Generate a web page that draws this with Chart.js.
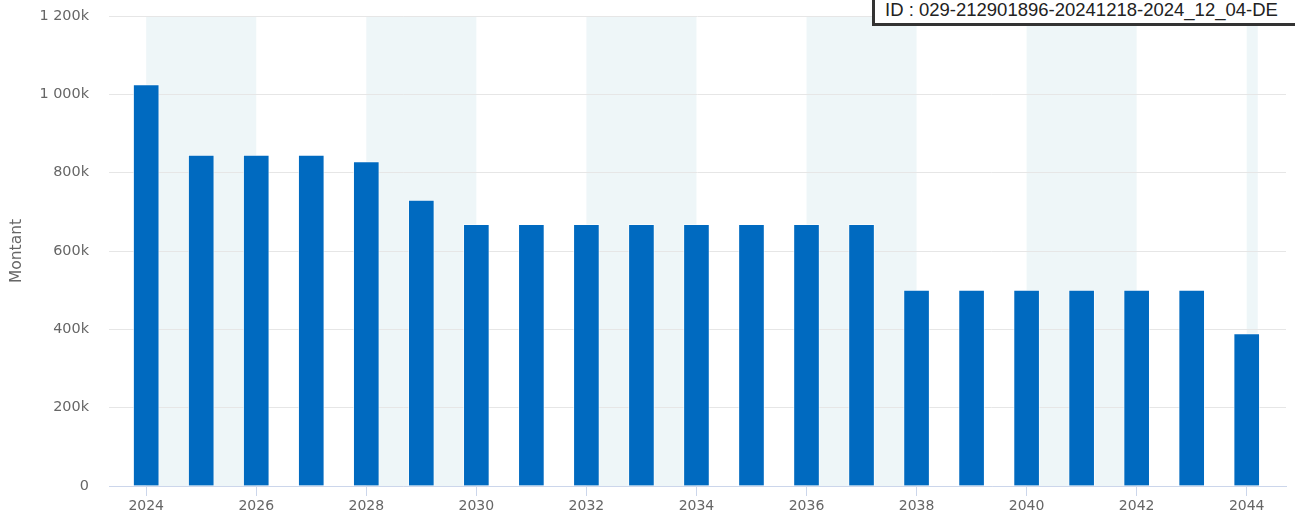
<!DOCTYPE html>
<html>
<head>
<meta charset="utf-8">
<script src="https://cdn.jsdelivr.net/npm/chart.js@4.4.1/dist/chart.umd.min.js"></script>
<style>
  html, body { margin: 0; padding: 0; background: #fff; overflow: hidden; }
  #wrap { position: relative; width: 1295px; height: 522px; overflow: hidden; }
  #idBox {
    position: absolute; left: 872px; top: -3px; width: 440px;
    border: 3px solid #333; background: #fff;
    padding: 0 0 3px 10px;
    font: 18.5px "Liberation Sans", Arial, sans-serif; line-height: 20px; color: #222;
    white-space: nowrap;
  }
</style>
</head>
<body>
<div id="wrap">
  <canvas id="myChart" width="1295" height="522"></canvas>
  <div id="idBox">ID : 029-212901896-20241218-2024_12_04-DE</div>
</div>
<script>
const years = [2024, 2025, 2026, 2027, 2028, 2029, 2030, 2031, 2032, 2033, 2034,
               2035, 2036, 2037, 2038, 2039, 2040, 2041, 2042, 2043, 2044];
const amounts = [1025000, 845000, 845000, 845000, 828000, 730000, 668000, 668000, 668000, 668000, 668000,
                 668000, 668000, 668000, 500000, 500000, 500000, 500000, 500000, 500000, 389000];
const tickYears = [2024, 2026, 2028, 2030, 2032, 2034, 2036, 2038, 2040, 2042, 2044];
const yTicks = [0, 200000, 400000, 600000, 800000, 1000000, 1200000];
const bandStarts = [2024, 2028, 2032, 2036, 2040, 2044];
const bandEnds = [2026, 2030, 2034, 2038, 2042, 2044.2];

const font = "'DejaVu Sans', Verdana, sans-serif";

// light alternating bands behind the grid
const bands = {
  id: 'bands',
  beforeDraw(chart) {
    const { ctx, chartArea, scales } = chart;
    ctx.save();
    ctx.fillStyle = '#eef6f8';
    bandStarts.forEach((s, i) => {
      const x0 = scales.x.getPixelForValue(s);
      const x1 = Math.min(scales.x.getPixelForValue(bandEnds[i]), chartArea.right);
      ctx.fillRect(x0, chartArea.top, x1 - x0, chartArea.bottom - chartArea.top);
    });
    ctx.restore();
  }
};

const fmt = v => v === 0 ? '0' : String(v / 1000).replace(/\B(?=(\d{3})+(?!\d))/g, ' ') + 'k';

new Chart(document.getElementById('myChart'), {
  type: 'bar',
  data: {
    datasets: [{
      label: 'Montant',
      data: years.map((y, i) => ({ x: y, y: amounts[i] })),
      backgroundColor: '#006ac0',
      borderColor: 'rgba(255,255,255,0.55)',
      borderWidth: 1,
      barThickness: 26
    }]
  },
  options: {
    responsive: false,
    animation: false,
    layout: { padding: { top: 16, right: 9, bottom: 0, left: 0 } },
    plugins: { legend: { display: false }, tooltip: { enabled: false } },
    scales: {
      x: {
        type: 'linear',
        min: 2023.324,
        max: 2044.714,
        offset: false,
        afterBuildTicks: scale => { scale.ticks = tickYears.map(v => ({ value: v })); },
        afterFit: scale => { scale.height = 36; },
        grid: { drawOnChartArea: false, drawTicks: true, tickLength: 10, color: '#ccd6eb', offset: false },
        border: { color: '#ccd6eb' },
        ticks: {
          callback: v => String(v),
          color: '#666', padding: 2, maxRotation: 0, autoSkip: false,
          font: { family: font, size: 14 }
        }
      },
      y: {
        min: 0,
        max: 1200000,
        afterBuildTicks: scale => { scale.ticks = yTicks.map(v => ({ value: v })); },
        afterFit: scale => { scale.width = 109; scale.paddingTop = 0; scale.paddingBottom = 0; },
        grid: { color: '#e6e6e6', drawTicks: false },
        border: { display: false },
        ticks: {
          callback: v => fmt(v),
          color: '#666', padding: 20,
          font: { family: font, size: 14.4 }
        },
        title: {
          display: true, text: 'Montant', color: '#666',
          padding: { top: 8, bottom: 0 },
          font: { family: font, size: 15.5 }
        }
      }
    }
  },
  plugins: [bands]
});
</script>
</body>
</html>
